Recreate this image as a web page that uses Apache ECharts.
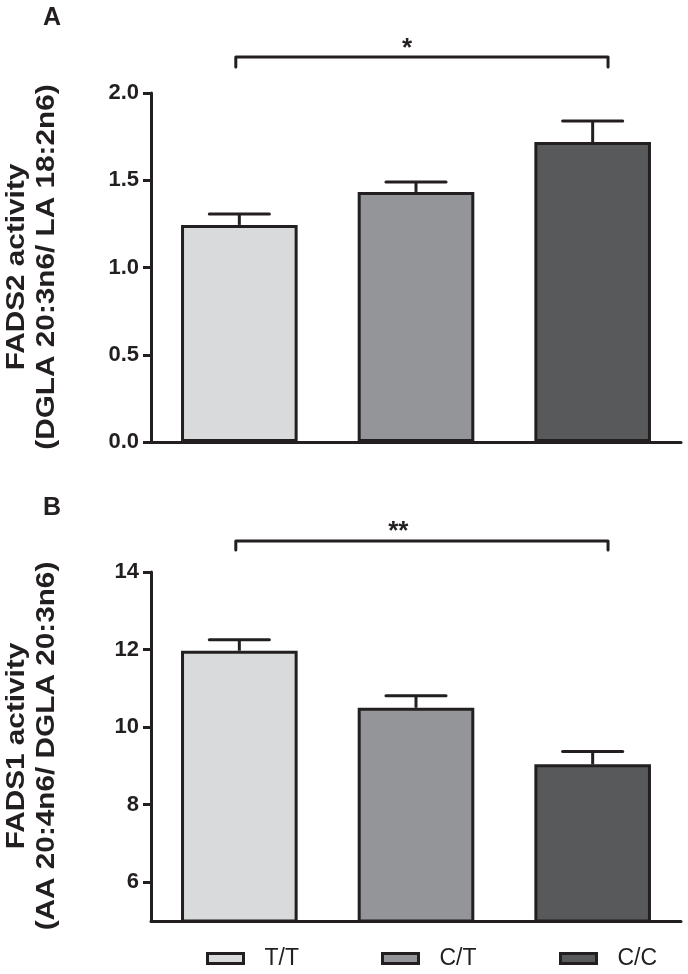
<!DOCTYPE html>
<html><head><meta charset="utf-8">
<script src="https://cdn.jsdelivr.net/npm/echarts@6/dist/echarts.min.js"></script>
<style>html,body{margin:0;padding:0;background:#fff}#c{width:688px;height:974px}</style>
</head><body><div id="c"></div>
<script>
// ---- data ----
const genotypes = ['T/T', 'C/T', 'C/C'];
const fads2Mean = [1.244, 1.433, 1.719];
const fads2Sem = [0.063, 0.057, 0.121];
const fads1Mean = [11.97, 10.50, 9.04];
const fads1Sem = [0.28, 0.31, 0.33];
const fads2Ticks = [0, 0.5, 1.0, 1.5, 2.0];
const fads1Ticks = [6, 8, 10, 12, 14];
const fads2Range = [0, 2];
const fads1Range = [5, 14];
const fads2Title = ['FADS2 activity', '(DGLA 20:3n6/ LA 18:2n6)'];
const fads1Title = ['FADS1 activity', '(AA 20:4n6/ DGLA 20:3n6)'];
const sigA = { from: 0, to: 2, label: '*' };
const sigB = { from: 0, to: 2, label: '**' };

// ---- style ----
const colors = ['#d9dadb', '#939598', '#58595b'];
const ink = '#231f20';
const FONT = 'Arial, "Liberation Sans", Helvetica, sans-serif';

const chart = echarts.init(document.getElementById('c'), null, { renderer: 'canvas' });

function barSeries(p, means) {
  return genotypes.map((g, i) => ({
    type: 'bar', name: g, xAxisIndex: p, yAxisIndex: p,
    data: means.map((v, j) => (j === i ? v : '-')),
    barWidth: '66%', barGap: '-100%',
    itemStyle: { color: colors[i], borderColor: ink, borderWidth: 3 },
    emphasis: { disabled: true }, z: 3
  }));
}

function errSeries(p, means, sems) {
  return {
    type: 'custom', xAxisIndex: p, yAxisIndex: p, silent: true, z: 2,
    data: means.map((m, i) => [i, m, sems[i]]),
    renderItem: (params, api) => {
      const x = api.value(0), m = api.value(1), s = api.value(2);
      const p0 = api.coord([x, m]);
      const p1 = api.coord([x, m + s]);
      const hw = api.size([1, 0])[0] * 0.17;
      return {
        type: 'group', children: [
          { type: 'line', shape: { x1: p0[0], y1: p0[1], x2: p1[0], y2: p1[1] }, style: { stroke: ink, lineWidth: 3 } },
          { type: 'line', shape: { x1: p1[0] - hw, y1: p1[1], x2: p1[0] + hw, y2: p1[1] }, style: { stroke: ink, lineWidth: 3, lineCap: 'round' } }
        ]
      };
    }
  };
}

function sigSeries(p, sig, yMax, rise, drop, labelShift, labelUp) {
  return {
    type: 'custom', xAxisIndex: p, yAxisIndex: p, silent: true, clip: false, z: 5,
    data: [[sig.from, sig.to]],
    renderItem: (params, api) => {
      const bw = api.size([1, 0])[0];
      const top = api.coord([0, yMax])[1];
      const y = top - rise;
      const xl = api.coord([api.value(0), yMax])[0] - 0.02 * bw;
      const xr = api.coord([api.value(1), yMax])[0] + 0.087 * bw;
      const xm = api.coord([(api.value(0) + api.value(1)) / 2, yMax])[0];
      return {
        type: 'group', children: [
          { type: 'polyline', shape: { points: [[xl, y + drop], [xl, y], [xr, y], [xr, y + drop]] },
            style: { stroke: ink, lineWidth: 3, fill: null, lineJoin: 'round', lineCap: 'round' } },
          { type: 'text', x: xm + labelShift * bw, y: y - labelUp,
            style: { text: sig.label, font: 'bold 26px ' + FONT, fill: ink, align: 'center', verticalAlign: 'middle' } }
        ]
      };
    }
  };
}

function yAxisCfg(p, range, ticks, fmt) {
  return {
    type: 'value', gridIndex: p, min: range[0], max: range[1],
    splitLine: { show: false },
    axisLine: { show: true, lineStyle: { color: ink, width: 3 } },
    axisTick: { show: true, length: 8, customValues: ticks, lineStyle: { color: ink, width: 3 } },
    axisLabel: { customValues: ticks, formatter: fmt, fontSize: 22, fontWeight: 'bold', color: ink, fontFamily: FONT, margin: 12 }
  };
}

function xAxisCfg(p) {
  return {
    type: 'category', gridIndex: p, data: genotypes,
    axisLine: { show: true, lineStyle: { color: ink, width: 3 } },
    axisTick: { show: false }, axisLabel: { show: false }
  };
}

function titleTexts(lines, yc) {
  return lines.map((t, k) => ({
    type: 'text', x: k === 0 ? 17 : 47, y: yc, rotation: Math.PI / 2, scaleX: 1.19,
    style: { text: t, font: 'bold 25px ' + FONT, fill: ink, align: 'center', verticalAlign: 'middle' }
  }));
}

const legendLeft = [206, 381, 559];

const option = {
  animation: false,
  backgroundColor: '#fff',
  title: [
    { text: 'A', left: 43, top: 6, padding: 0, textStyle: { fontSize: 25, fontWeight: 'bold', color: ink, fontFamily: FONT } },
    { text: 'B', left: 43, top: 496, padding: 0, textStyle: { fontSize: 25, fontWeight: 'bold', color: ink, fontFamily: FONT } }
  ],
  grid: [
    { left: 151, right: 7, top: 93, height: 349 },
    { left: 151, right: 7, top: 572, height: 349 }
  ],
  xAxis: [xAxisCfg(0), xAxisCfg(1)],
  yAxis: [
    yAxisCfg(0, fads2Range, fads2Ticks, v => v.toFixed(1)),
    yAxisCfg(1, fads1Range, fads1Ticks, v => String(v))
  ],
  legend: genotypes.map((g, i) => ({
    data: [g], left: legendLeft[i], top: 947, padding: 0,
    icon: 'rect', itemWidth: 36, itemHeight: 10, selectedMode: false,
    itemStyle: { borderColor: ink, borderWidth: 3 },
    textStyle: { fontSize: 23, color: ink, fontFamily: FONT, padding: [0, 0, 0, 16] }
  })),
  graphic: [...titleTexts(fads2Title, 267), ...titleTexts(fads1Title, 746)],
  series: [
    ...barSeries(0, fads2Mean),
    errSeries(0, fads2Mean, fads2Sem),
    sigSeries(0, sigA, fads2Range[1], 36, 10, -0.05, 8),
    ...barSeries(1, fads1Mean),
    errSeries(1, fads1Mean, fads1Sem),
    sigSeries(1, sigB, fads1Range[1], 31, 9, -0.1, 9)
  ]
};
chart.setOption(option);
</script></body></html>
